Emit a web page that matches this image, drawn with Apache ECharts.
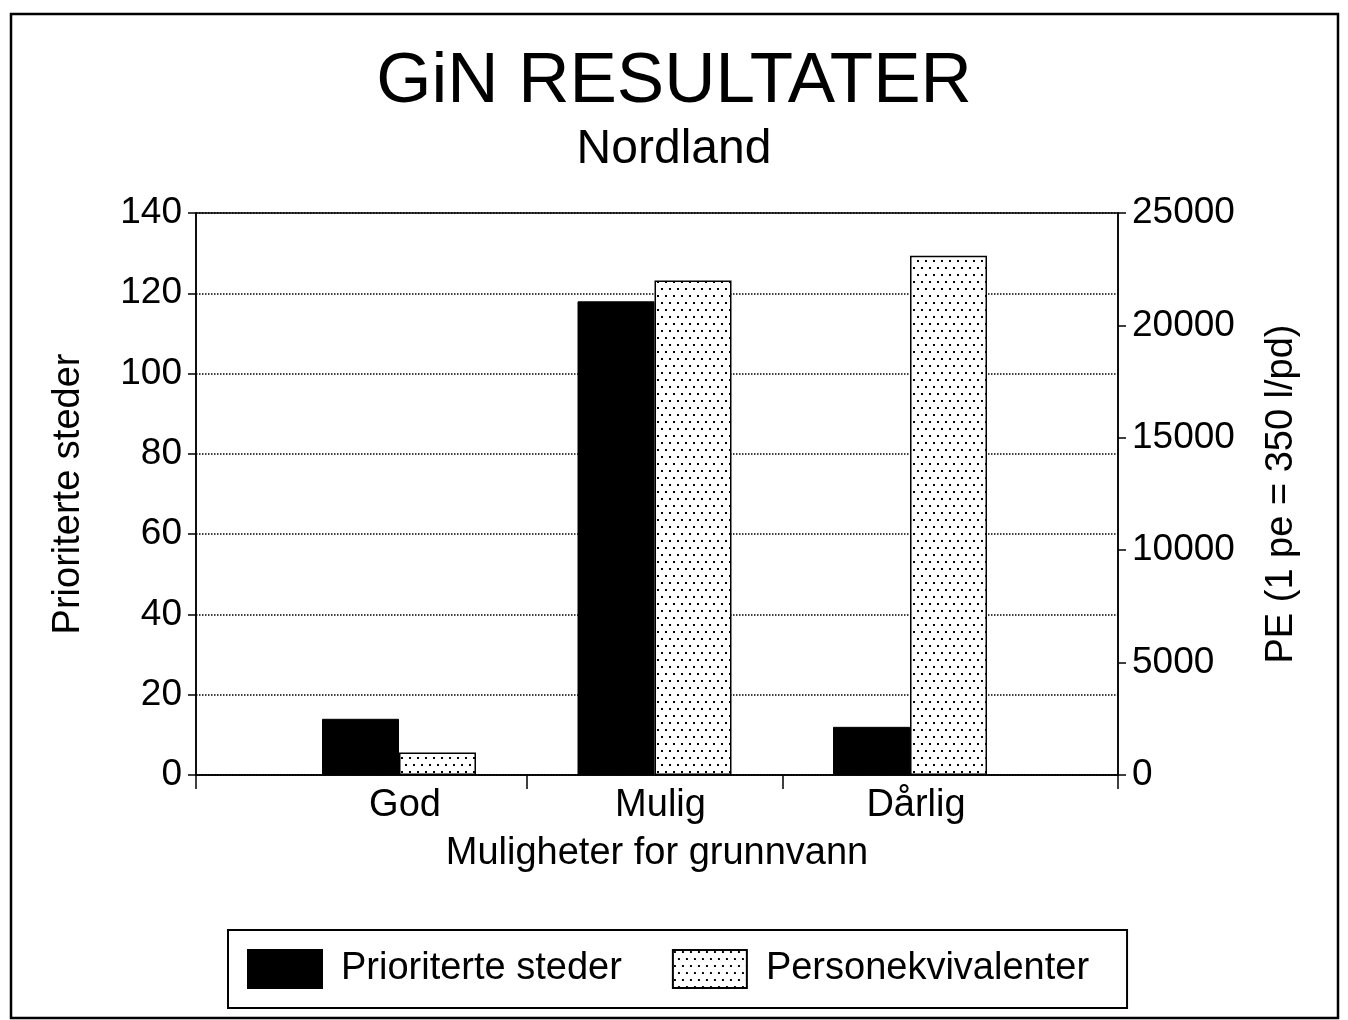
<!DOCTYPE html>
<html>
<head>
<meta charset="utf-8">
<script src="https://cdn.jsdelivr.net/npm/echarts@6/dist/echarts.min.js"></script>
<style>
  html, body { margin: 0; padding: 0; background: #fff; }
  #chart { width: 1348px; height: 1020px; }
</style>
</head>
<body>
<div id="chart"></div>
<script>
// kategorier langs x-aksen
const categories = ["God", "Mulig", "Dårlig"];
// venstre akse: antall prioriterte steder
const prioriterte = [14, 118, 12];
// høyre akse: personekvivalenter
const personekv = [1000, 22000, 23100];
// akseinndeling
const leftTicks = [0, 140, 20];
const rightTicks = [0, 25000, 5000];

// x-aksen går litt utenfor gruppene, slik som i originalen
const xMin = -0.7945;
const xMax = 2.814;

// prikkemønster for personekvivalenter
function dotPattern() {
  const c = document.createElement("canvas");
  c.width = 16;
  c.height = 14;
  const ctx = c.getContext("2d");
  ctx.fillStyle = "#fff";
  ctx.fillRect(0, 0, 16, 14);
  ctx.fillStyle = "#000";
  [[1, 1], [9, 1], [5, 8], [13, 8]].forEach(([x, y]) => ctx.fillRect(x, y, 2, 2));
  return c;
}

const font = "Liberation Sans, Arial, Helvetica, sans-serif";
const myChart = echarts.init(document.getElementById("chart"));

let option = {
  backgroundColor: "#fff",
  textStyle: { fontFamily: font, color: "#000" },
  animation: false,
  // ramme rundt hele figuren
  graphic: [
    {
      type: "rect",
      shape: { x: 11, y: 14, width: 1327, height: 1004 },
      style: { fill: "none", stroke: "#000", lineWidth: 2.5 },
      silent: true,
    },
  ],
  title: {
    text: "GiN RESULTATER",
    subtext: "Nordland",
    left: "center",
    top: 42,
    itemGap: 8,
    textStyle: { fontFamily: font, fontSize: 71, fontWeight: "normal", color: "#000" },
    subtextStyle: { fontFamily: font, fontSize: 48, color: "#000" },
  },
  legend: {
    left: 228,
    top: 930,
    padding: [19, 38, 19, 19],
    itemGap: 50,
    itemWidth: 74,
    itemHeight: 38,
    borderColor: "#000",
    borderWidth: 2,
    icon: "rect",
    textStyle: { fontFamily: font, fontSize: 38, color: "#000", padding: [0, 0, 0, 14] },
    data: ["Prioriterte steder", "Personekvivalenter"],
  },
  grid: {
    left: 196,
    right: 230,
    top: 213,
    bottom: 245,
    show: true,
    borderColor: "#000",
    borderWidth: 1.5,
  },
  xAxis: {
    type: "value",
    min: xMin,
    max: xMax,
    name: "Muligheter for grunnvann",
    nameLocation: "middle",
    nameGap: 60,
    nameTextStyle: { fontFamily: font, fontSize: 38, color: "#000" },
    axisLine: { show: true, lineStyle: { color: "#000", width: 1.5 } },
    axisTick: {
      show: true,
      length: 14,
      customValues: [xMin, 0.5, 1.5, xMax],
      lineStyle: { color: "#000", width: 1.5 },
    },
    axisLabel: {
      customValues: [0, 1, 2],
      formatter: (v) => categories[Math.round(v)],
      fontFamily: font,
      fontSize: 38,
      color: "#000",
      margin: 12,
      padding: [0, 0, 0, 12],
    },
    splitLine: { show: false },
  },
  yAxis: [
    {
      type: "value",
      min: leftTicks[0],
      max: leftTicks[1],
      interval: leftTicks[2],
      name: "Prioriterte steder",
      nameLocation: "middle",
      nameRotate: 90,
      nameGap: 108,
      nameTextStyle: { fontFamily: font, fontSize: 38, color: "#000" },
      axisLine: { show: true, onZero: false, lineStyle: { color: "#000", width: 1.5 } },
      axisTick: { show: true, length: 8, lineStyle: { color: "#000", width: 1.5 } },
      axisLabel: { fontFamily: font, fontSize: 37, color: "#000", margin: 14 },
      splitLine: { show: true, lineStyle: { type: "dotted", color: "#000", width: 1.5 } },
    },
    {
      type: "value",
      position: "right",
      min: rightTicks[0],
      max: rightTicks[1],
      interval: rightTicks[2],
      name: "PE (1 pe = 350 l/pd)",
      nameLocation: "middle",
      nameRotate: 90,
      nameGap: 145,
      nameTextStyle: { fontFamily: font, fontSize: 38, color: "#000" },
      axisLine: { show: true, onZero: false, lineStyle: { color: "#000", width: 1.5 } },
      axisTick: { show: true, length: 8, lineStyle: { color: "#000", width: 1.5 } },
      axisLabel: {
        fontFamily: font,
        fontSize: 37,
        color: "#000",
        margin: 14,
        formatter: (v) => String(v),
      },
      splitLine: { show: false },
    },
  ],
  series: [
    {
      type: "bar",
      name: "Prioriterte steder",
      yAxisIndex: 0,
      barWidth: 77,
      barGap: "0%",
      data: prioriterte.map((v, i) => [i, v]),
      itemStyle: { color: "#000", borderColor: "#000", borderWidth: 1 },
    },
    {
      type: "bar",
      name: "Personekvivalenter",
      yAxisIndex: 1,
      barWidth: 77,
      barGap: "0%",
      data: personekv.map((v, i) => [i, v]),
      itemStyle: {
        color: { image: dotPattern(), repeat: "repeat" },
        borderColor: "#000",
        borderWidth: 1.5,
      },
    },
  ],
};
myChart.setOption(option);
</script>
</body>
</html>
